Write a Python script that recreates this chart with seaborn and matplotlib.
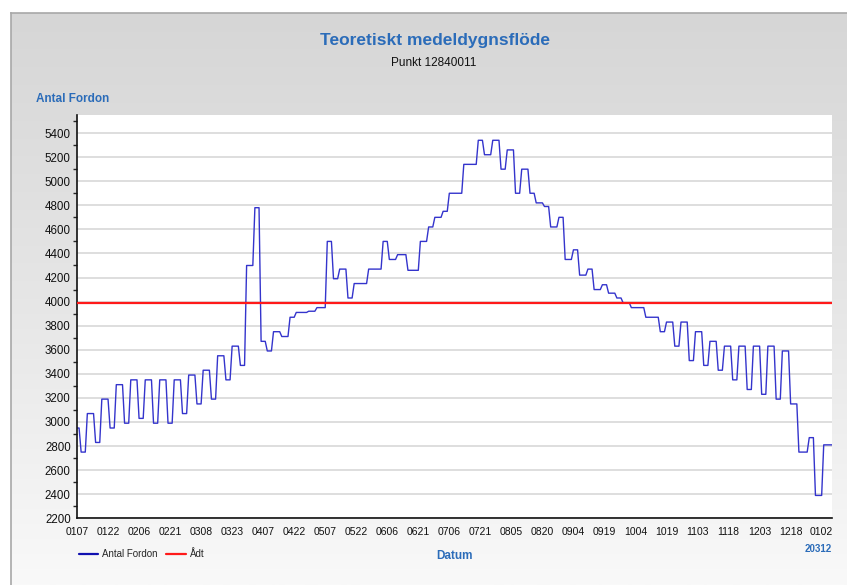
import numpy as np
import pandas as pd
import seaborn as sns
import matplotlib.pyplot as plt
import matplotlib.dates as mdates
from matplotlib.lines import Line2D

# start day of each level (days after 7 Jan) and the level itself
seg_day = [0, 2, 5, 9, 12, 16, 19, 23, 26, 30, 33, 37, 40, 44, 47, 51, 54, 58,
           61, 65, 68, 72, 75, 79, 82, 86, 89, 92, 95, 99, 103, 106, 112, 116,
           121, 124, 127, 131, 134, 141, 148, 151, 155, 160, 166, 170, 173, 177,
           180, 187, 194, 197, 201, 205, 208, 212, 215, 219, 222, 226, 229, 233,
           236, 240, 243, 247, 250, 254, 257, 261, 264, 268, 275, 282, 285, 289,
           292, 296, 299, 303, 306, 310, 313, 317, 320, 324, 327, 331, 334, 338,
           341, 345, 349, 354, 357, 361]
seg_val = [2950, 2750, 3070, 2830, 3190, 2950, 3310, 2990, 3350, 3030, 3350, 2990,
           3350, 2990, 3350, 3070, 3390, 3150, 3430, 3190, 3550, 3350, 3630, 3470,
           4300, 4780, 3670, 3590, 3750, 3710, 3870, 3910, 3920, 3950, 4500, 4190,
           4270, 4030, 4150, 4270, 4500, 4350, 4390, 4260, 4500, 4620, 4700, 4750,
           4900, 5140, 5340, 5220, 5340, 5100, 5260, 4900, 5100, 4900, 4820, 4790,
           4620, 4700, 4350, 4430, 4220, 4270, 4100, 4140, 4070, 4030, 3990, 3950,
           3870, 3750, 3830, 3630, 3830, 3510, 3750, 3470, 3670, 3430, 3630, 3350,
           3630, 3270, 3630, 3230, 3630, 3190, 3590, 3150, 2750, 2870, 2390, 2810]
adt = 3990
start = pd.Timestamp('2015-01-07')
n_days = 366

days = pd.date_range(start, periods=n_days, freq='D')
seg = pd.Series(seg_val, index=start + pd.to_timedelta(seg_day, unit='D'))
df = pd.DataFrame({'datum': days, 'antal': seg.reindex(days).ffill().values})

sns.set_theme(style='white')
plt.rcParams['font.family'] = ['Liberation Sans', 'DejaVu Sans']

blue_t = '#2b6cb9'
fig = plt.figure(figsize=(8.47, 5.85), dpi=100)
fig.patch.set_facecolor('white')

# grey gradient panel behind everything
bg = fig.add_axes([11/847, 0, 1 - 11/847, 1 - 13/585], zorder=-10)
grad = np.linspace(0, 1, 256).reshape(-1, 1)
bg.imshow(grad, aspect='auto', cmap=plt.matplotlib.colors.LinearSegmentedColormap.from_list(
    'g', ['#d6d6d6', '#e6e6e6', '#f9f9f9']), extent=[0, 1, 0, 1])
bg.set_xticks([]); bg.set_yticks([])
for s in ['right', 'bottom']:
    bg.spines[s].set_visible(False)
for s in ['left', 'top']:
    bg.spines[s].set_color('#a8a8a8')
    bg.spines[s].set_linewidth(1.2)

ax = fig.add_axes([77/847, 1 - 518.3/585, (832 - 77)/847, (518.3 - 115)/585])
ax.set_facecolor('white')
sns.lineplot(data=df, x='datum', y='antal', ax=ax, color='#3434cc', linewidth=1.0)
ax.axhline(adt, color='#ff1a1a', linewidth=1.6, zorder=3)

ax.set_ylim(2200, 5550)
ax.set_xlim(days[0], days[-1])
ax.set_yticks(np.arange(2200, 5401, 200))
ax.set_yticks(np.arange(2300, 5550, 200), minor=True)
ax.yaxis.grid(True, which='major', color='#d4d4d4', linewidth=1.1)
ax.set_axisbelow(True)
xt = pd.date_range(start, periods=25, freq='15D')
ax.set_xticks(xt)
ax.xaxis.set_major_formatter(mdates.DateFormatter('%m%d'))
ax.set_xlabel('')
ax.set_ylabel('')
for s in ['top', 'right']:
    ax.spines[s].set_visible(False)
for s in ['left', 'bottom']:
    ax.spines[s].set_color('#111111')
    ax.spines[s].set_linewidth(1.2)
ax.tick_params(axis='y', which='major', direction='inout', length=7, width=1,
               labelsize=8.3, colors='#111111', pad=1)
ax.tick_params(axis='y', which='minor', direction='out', length=3, width=1, left=True)
ax.tick_params(axis='x', which='major', direction='inout', length=7, width=1,
               labelsize=7.5, colors='#111111', pad=3)

fig.text(435/847, 1 - 41/585, 'Teoretiskt medeldygnsflöde', ha='center', va='center',
         fontsize=12.5, fontweight='bold', color=blue_t)
fig.text(434/847, 1 - 63/585, 'Punkt 12840011', ha='center', va='center',
         fontsize=8.5, color='#111111')
fig.text(36/847, 1 - 99/585, 'Antal Fordon', ha='left', va='center',
         fontsize=8.5, fontweight='bold', color=blue_t)
fig.text(454/847, 1 - 556/585, 'Datum', ha='center', va='center',
         fontsize=8.5, fontweight='bold', color=blue_t)
fig.text(832/847, 1 - 549/585, '20312', ha='right', va='center',
         fontsize=7, fontweight='bold', color=blue_t)

handles = [Line2D([], [], color='#1010b0', linewidth=1.6),
           Line2D([], [], color='#ff1a1a', linewidth=1.6)]
fig.legend(handles, ['Antal Fordon', 'Ådt'], loc='center left',
           bbox_to_anchor=(70/847, 1 - 554/585), ncol=2, frameon=False,
           fontsize=7, handlelength=2.0, handletextpad=0.4, columnspacing=0.9)

fig.savefig('out.png', dpi=100)
